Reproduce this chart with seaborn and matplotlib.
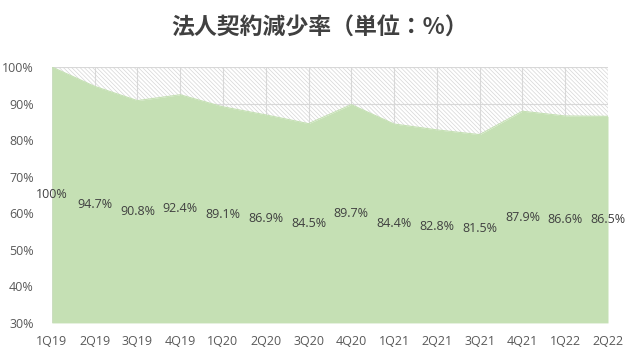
import matplotlib
matplotlib.use("Agg")
import matplotlib.pyplot as plt
import seaborn as sns
import numpy as np
import pandas as pd

quarters = ["1Q19", "2Q19", "3Q19", "4Q19", "1Q20", "2Q20", "3Q20", "4Q20",
            "1Q21", "2Q21", "3Q21", "4Q21", "1Q22", "2Q22"]
rates = [100, 94.7, 90.8, 92.4, 89.1, 86.9, 84.5, 89.7, 84.4, 82.8, 81.5, 87.9, 86.6, 86.5]
rate_labels = ["100%", "94.7%", "90.8%", "92.4%", "89.1%", "86.9%", "84.5%", "89.7%",
               "84.4%", "82.8%", "81.5%", "87.9%", "86.6%", "86.5%"]
yticks = [30, 40, 50, 60, 70, 80, 90, 100]

sns.set_theme(style="white")
plt.rcParams['font.family'] = ['Open Sans', 'Noto Sans CJK JP', 'DejaVu Sans']
plt.rcParams['hatch.color'] = '#D6D6D6'
plt.rcParams['hatch.linewidth'] = 0.5

df = pd.DataFrame({"q": quarters, "rate": rates})
df["x"] = np.arange(len(df))

fig = plt.figure(figsize=(6.4, 3.6), dpi=100)
ax = fig.add_axes([0.081, 0.103, 0.869, 0.711])

ymin, ymax = 30, 100
ax.set_ylim(ymin, ymax)
ax.set_xlim(0, len(df) - 1)

# gridlines
for y in yticks:
    ax.axhline(y, color='#D9D9D9', lw=0.8, zorder=0)
for x in df["x"]:
    ax.axvline(x, color='#D9D9D9', lw=0.8, zorder=0)

# hatched remainder region
ax.fill_between(df["x"], df["rate"], 100, facecolor='none', hatch='\\' * 8,
                edgecolor='#D6D6D6', linewidth=0, zorder=1)
# green area
ax.fill_between(df["x"], ymin, df["rate"], color='#C5E0B4', linewidth=0, zorder=2)
sns.lineplot(data=df, x="x", y="rate", color='#C5E0B4', lw=0.8, ax=ax, zorder=3)

for xi, v, lab in zip(df["x"], df["rate"], rate_labels):
    ax.text(xi, (ymin + v) / 2, lab, ha='center', va='center', fontsize=9,
            color='#404040', zorder=5)

ax.set_xticks(df["x"])
ax.set_xticklabels(quarters)
ax.set_yticks(yticks)
ax.set_yticklabels([f"{y}%" for y in yticks])
ax.tick_params(axis='both', length=0, labelsize=9, colors='#595959')
ax.tick_params(axis='x', pad=9)
ax.tick_params(axis='y', pad=13)
ax.set_xlabel("")
ax.set_ylabel("")
for s in ax.spines.values():
    s.set_visible(False)

fig.text(0.5, 0.922, "法人契約減少率（単位：%）", ha='center', va='center',
         fontsize=16.5, fontweight='bold', color='#404040',
         family=['Noto Sans CJK JP', 'DejaVu Sans'])

fig.savefig("out.png", dpi=100)
